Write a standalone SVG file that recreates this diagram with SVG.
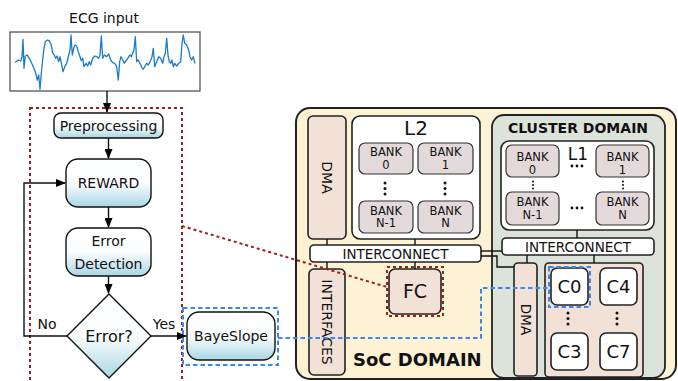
<svg xmlns="http://www.w3.org/2000/svg" width="678" height="381" viewBox="0 0 678 381">
<defs>
<linearGradient id="g" x1="0" y1="0" x2="0" y2="1">
<stop offset="0" stop-color="#ffffff"/><stop offset="0.5" stop-color="#fbfdfe"/><stop offset="1" stop-color="#a9d6e4"/>
</linearGradient>
<marker id="ah" markerWidth="10" markerHeight="8" refX="9" refY="4" orient="auto" markerUnits="userSpaceOnUse">
<path d="M0,0 L10,4 L0,8 Z" fill="#000"/>
</marker>
<style>
text{font-family:"DejaVu Sans","Liberation Sans",sans-serif;fill:#111}
.fc{fill:url(#g);stroke:#111;stroke-width:1.4}
.ln{fill:none;stroke:#111;stroke-width:1.4}
.arr{fill:none;stroke:#111;stroke-width:1.4;marker-end:url(#ah)}
.blk{fill:#f2e1d7;stroke:#222;stroke-width:1.6}
.bank{fill:#e3d9da;stroke:#333;stroke-width:1.2}
.wht{fill:#fff;stroke:#222;stroke-width:1.6}
.red{fill:none;stroke:#a01c1c;stroke-width:2;stroke-dasharray:3,3}
.blue{fill:none;stroke:#3a86f5;stroke-width:2;stroke-dasharray:4.5,3}
.c{text-anchor:middle}
.bk{font-size:11.5px;text-anchor:middle}
.dot{fill:#111}
</style>
</defs>

<!-- ECG input -->
<g id="ecg">
<text x="104" y="23" class="c" font-size="14">ECG input</text>
<rect x="10" y="32" width="190" height="59" fill="#fff" stroke="#555" stroke-width="1.3"/>
<polyline fill="none" stroke="#1b7bc5" stroke-width="1.3" stroke-linejoin="round" points="15,62.3 18.3,60 20.7,61 22,56.7 23,39.3 24,68.3 25.3,56 27.3,55 29.3,58.3 31,61.7 33.3,66.7 35.3,71.7 37.3,80 38.7,75 40,89.3 41.3,73.3 42.7,60 44,48.3 45.3,41.7 47.3,40 49.3,40.7 51.3,45 52.7,53.3 54.3,55 55.7,58.3 57,56 58.7,61.7 60,56.7 61.7,65 63,71.7 64.7,66.7 66.7,63.3 68.7,55 70,50 71,35 72.3,55 73.7,48.3 75,45 76.7,46 78.3,51.7 80,56.7 81.3,60.7 82.7,58.3 84,66.7 86,63.3 87.7,66 89.3,61.7 90.7,65 92.7,58.3 94.7,56 96.7,56.7 98.7,58.3 100,55 101.3,36 102.7,58.3 104.3,55 106.7,56.7 108.7,54 110.7,60 112.7,62.7 114.7,63.3 116.7,66.7 118.3,80 119.7,61.7 121,56.7 122.7,60 124.3,63.3 126,60.7 127.3,59.3 128.7,56.7 130,55 131.3,56.7 132.7,53.3 134,50 135.3,36.7 136.7,61.7 138,60 140,63.3 141.7,67.3 143.3,69.3 145,66 146.7,63.3 148.3,65 150,61.7 152,56.7 153.3,48.3 154.7,66.7 156.7,61.7 158.7,56.7 160.7,58.3 162.7,63.3 164,56.7 165.3,53.3 166.7,38.3 168,55 169.3,61.7 170.7,63.3 172,60 173.3,66.7 174.7,63.3 176.7,66 178.7,63.3 180.7,61.7 182,43.3 183.3,35 184.7,43.3 186.7,45 188.7,50 190,56.7 191.7,60 193.3,56.7 195,63.3"/>
</g>

<!-- red dotted region -->
<rect id="region" x="30" y="108" width="152" height="290" class="red"/>

<g id="preprocessing">
<rect x="54" y="113" width="109" height="25" rx="7" class="fc"/>
<text x="108.5" y="130.5" class="c" font-size="14">Preprocessing</text>
</g>
<g id="reward">
<rect x="66" y="159" width="85" height="48" rx="12" class="fc"/>
<text x="108.5" y="188" class="c" font-size="14">REWARD</text>
</g>
<g id="errdet">
<rect x="66" y="228" width="85" height="48" rx="12" class="fc"/>
<text x="108.5" y="246" class="c" font-size="14">Error</text>
<text x="108.5" y="269" class="c" font-size="14">Detection</text>
</g>
<g id="decision">
<polygon points="109,294 151,336 109,378 67,336" class="fc"/>
<text x="109" y="342" class="c" font-size="16">Error?</text>
</g>
<g id="bayeslope">
<rect x="187" y="312" width="88" height="48" rx="12" class="fc"/>
<text x="231" y="341" class="c" font-size="14">BayeSlope</text>
<rect x="183" y="308" width="95" height="57" class="blue"/>
</g>

<!-- SoC -->
<g id="soc">
<rect x="296" y="108" width="380" height="271" rx="14" fill="#fdf2d4" stroke="#222" stroke-width="2"/>
<text x="353" y="366" font-size="18" font-weight="bold">SoC DOMAIN</text>
</g>
<g id="soc-dma">
<rect x="308" y="116" width="38" height="123" rx="5" class="blk"/>
<text transform="translate(322,177.5) rotate(90)" class="c" font-size="14">DMA</text>
</g>
<g id="l2">
<rect x="352" y="116" width="128" height="123" rx="8" class="wht"/>
<text x="416" y="135" class="c" font-size="20">L2</text>
<rect x="359" y="143" width="54" height="31" rx="6" class="bank"/>
<text x="386" y="156" class="bk">BANK</text><text x="386" y="168.5" class="bk">0</text>
<rect x="418" y="143" width="55" height="31" rx="6" class="bank"/>
<text x="445.5" y="156" class="bk">BANK</text><text x="445.5" y="168.5" class="bk">1</text>
<rect x="359" y="201" width="54" height="32" rx="6" class="bank"/>
<text x="386" y="214.5" class="bk">BANK</text><text x="386" y="227" class="bk">N-1</text>
<rect x="418" y="201" width="55" height="32" rx="6" class="bank"/>
<text x="445.5" y="214.5" class="bk">BANK</text><text x="445.5" y="227" class="bk">N</text>
<circle cx="385" cy="183" r="1.5" class="dot"/><circle cx="385" cy="188.5" r="1.5" class="dot"/><circle cx="385" cy="194" r="1.5" class="dot"/>
<circle cx="445" cy="183" r="1.5" class="dot"/><circle cx="445" cy="188.5" r="1.5" class="dot"/><circle cx="445" cy="194" r="1.5" class="dot"/>
</g>
<g id="soc-interconnect">
<rect x="310" y="245" width="171" height="17" rx="4" class="wht"/>
<text x="395.5" y="258.5" class="c" font-size="13.5">INTERCONNECT</text>
</g>
<g id="interfaces">
<rect x="309" y="269" width="36" height="106" rx="5" class="blk"/>
<text transform="translate(322,322) rotate(90)" class="c" font-size="14">INTERFACES</text>
</g>
<g id="fc">
<rect x="389" y="269" width="52" height="45" rx="6" class="blk"/>
<text x="415" y="298" class="c" font-size="19">FC</text>
<rect x="387" y="267" width="56" height="49" class="red"/>
</g>

<!-- Cluster -->
<g id="cluster">
<rect x="492" y="115" width="173" height="263" rx="12" fill="#dce3db" stroke="#222" stroke-width="1.8"/>
<text x="578" y="133" class="c" font-size="14" font-weight="bold">CLUSTER DOMAIN</text>
</g>
<g id="l1">
<rect x="501" y="141" width="153" height="89" rx="8" class="wht"/>
<text x="578" y="160" class="c" font-size="17">L1</text>
<rect x="506" y="145" width="53" height="32" rx="6" class="bank"/>
<text x="532.5" y="161" class="bk">BANK</text><text x="532.5" y="173.5" class="bk">0</text>
<rect x="596" y="145" width="53" height="32" rx="6" class="bank"/>
<text x="622.5" y="161" class="bk">BANK</text><text x="622.5" y="173.5" class="bk">1</text>
<rect x="506" y="192" width="53" height="33" rx="6" class="bank"/>
<text x="532.5" y="206" class="bk">BANK</text><text x="532.5" y="218.5" class="bk">N-1</text>
<rect x="596" y="192" width="53" height="33" rx="6" class="bank"/>
<text x="622.5" y="206" class="bk">BANK</text><text x="622.5" y="218.5" class="bk">N</text>
<circle cx="572" cy="166" r="1.4" class="dot"/><circle cx="577" cy="166" r="1.4" class="dot"/><circle cx="582" cy="166" r="1.4" class="dot"/>
<circle cx="572" cy="208" r="1.4" class="dot"/><circle cx="577" cy="208" r="1.4" class="dot"/><circle cx="582" cy="208" r="1.4" class="dot"/>
<circle cx="533" cy="181.5" r="1" class="dot"/><circle cx="533" cy="185" r="1" class="dot"/><circle cx="533" cy="188.5" r="1" class="dot"/>
<circle cx="623" cy="181.5" r="1" class="dot"/><circle cx="623" cy="185" r="1" class="dot"/><circle cx="623" cy="188.5" r="1" class="dot"/>
</g>
<g id="cl-interconnect">
<rect x="502" y="238" width="152" height="17" rx="4" class="wht"/>
<text x="578" y="251.5" class="c" font-size="13.5">INTERCONNECT</text>
</g>
<g id="cl-dma">
<rect x="514" y="263" width="23" height="113" rx="4" class="blk"/>
<text transform="translate(521,319.5) rotate(90)" class="c" font-size="13.5">DMA</text>
</g>
<g id="cores">
<rect x="545" y="263" width="98" height="114" rx="4" class="blk"/>
<rect x="551" y="268" width="37" height="37" rx="6" class="wht"/>
<text x="569.5" y="293" class="c" font-size="18">C0</text>
<rect x="600" y="268" width="37" height="37" rx="6" class="wht"/>
<text x="618.5" y="293" class="c" font-size="18">C4</text>
<rect x="551" y="333" width="37" height="37" rx="6" class="wht"/>
<text x="569.5" y="358" class="c" font-size="18">C3</text>
<rect x="600" y="333" width="37" height="37" rx="6" class="wht"/>
<text x="618.5" y="358" class="c" font-size="18">C7</text>
<circle cx="568" cy="313" r="1.5" class="dot"/><circle cx="568" cy="318.5" r="1.5" class="dot"/><circle cx="568" cy="324" r="1.5" class="dot"/>
<circle cx="617" cy="313" r="1.5" class="dot"/><circle cx="617" cy="318.5" r="1.5" class="dot"/><circle cx="617" cy="324" r="1.5" class="dot"/>
<rect x="549" y="267" width="41" height="40" class="blue"/>
</g>

<!-- connectors -->
<g id="connectors">
<line x1="107" y1="91" x2="107" y2="112" class="arr"/>
<line x1="108.5" y1="138" x2="108.5" y2="158" class="arr"/>
<line x1="108.5" y1="207" x2="108.5" y2="227" class="arr"/>
<line x1="108.5" y1="276" x2="108.5" y2="293" class="arr"/>
<polyline points="67,336 24,336 24,183 65,183" class="arr"/>
<line x1="151" y1="336" x2="186" y2="336" class="arr"/>
<text x="47" y="329" class="c" font-size="14">No</text>
<text x="164" y="329" class="c" font-size="14">Yes</text>
<line x1="327" y1="239" x2="327" y2="245" class="ln"/>
<line x1="415" y1="239" x2="415" y2="245" class="ln"/>
<line x1="327" y1="262" x2="327" y2="269" class="ln"/>
<line x1="415" y1="262" x2="415" y2="269" class="ln"/>
<line x1="577" y1="230" x2="577" y2="238" class="ln"/>
<line x1="527" y1="255" x2="527" y2="263" class="ln"/>
<line x1="594" y1="255" x2="594" y2="263" class="ln"/>
<line x1="481" y1="251" x2="502" y2="251" class="ln"/>
<polyline points="481,256 497,256 497,267 514,267" class="ln"/>
<line x1="182" y1="226" x2="387" y2="287" class="red"/>
<polyline points="278,338 481,338 481,288 549,288" class="blue"/>
</g>
</svg>
